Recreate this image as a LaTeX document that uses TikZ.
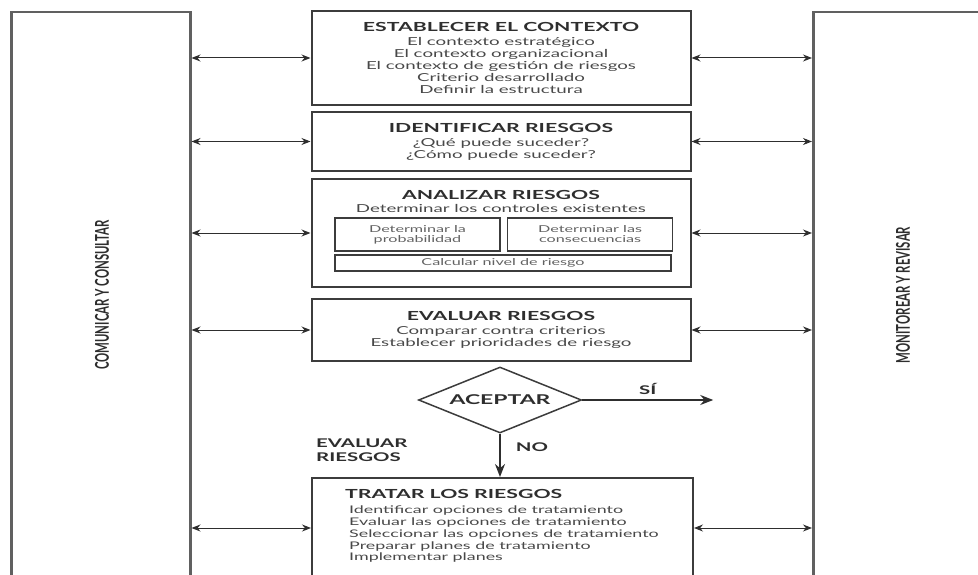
\documentclass[tikz,border=0pt]{standalone}
\usepackage{fontspec}
\setmainfont{Lato}[FakeStretch=1.7]
\newfontfamily\ladofont{Lato}[FakeStretch=0.6]
\usetikzlibrary{positioning,shapes.geometric,arrows.meta}

\definecolor{borde}{HTML}{3C3C3C}
\definecolor{gbarra}{HTML}{606060}
\definecolor{titulo}{HTML}{2E2E2E}
\definecolor{texto}{HTML}{484848}
\definecolor{tenue}{HTML}{626262}

\newcommand{\fuentetitulo}{\fontsize{12.5}{15}\selectfont\bfseries}
\newcommand{\fuentetexto}{\fontsize{11}{12}\selectfont}

\tikzset{
    etapa/.style={draw=borde, line width=2pt, minimum width=379pt,
        align=center, inner sep=0pt, text=texto, font=\fuentetexto},
    interior/.style={draw=borde, line width=1.6pt, align=center,
        inner sep=0pt, text=tenue, font=\fontsize{9.5}{10}\selectfont},
    barra/.style={draw=gbarra, line width=2.5pt, anchor=north west,
        minimum height=640pt},
    lado/.style={rotate=90, text=titulo,
        font=\ladofont\fontsize{19}{20}\selectfont\bfseries},
    doble/.style={{Stealth[length=9pt,width=7pt]}-{Stealth[length=9pt,width=7pt]},
        line width=1pt, draw=titulo},
    salida/.style={-{Stealth[length=13pt,width=10pt]}, line width=1.6pt,
        draw=titulo},
    marca/.style={font=\fontsize{12}{14}\selectfont\bfseries, text=titulo,
        inner sep=0pt}
}

\begin{document}
\begin{tikzpicture}[x=1pt, y=-1pt]

    \useasboundingbox (0,0) rectangle (978,575);
    \clip (0,0) rectangle (978,575);

    % barras laterales
    \node[barra, minimum width=179pt] (comunicar) at (10,11) {};
    \node[barra, minimum width=200pt] (monitorear) at (812,11) {};

    \node[lado] (comunicarlbl) at (102,295) {COMUNICAR Y CONSULTAR};
    \node[lado] (monitorearlbl) at (903,295) {MONITOREAR Y REVISAR};

    % contexto
    \node[etapa,
        minimum height=94pt
    ] (contexto) at (501,58) {{\fuentetitulo\color{titulo}ESTABLECER EL CONTEXTO}\\[2pt]
        El contexto estratégico\\
        El contexto organizacional\\
        El contexto de gestión de riesgos\\
        Criterio desarrollado\\
        Definir la estructura};

    % identificar
    \node[etapa,
        minimum height=59pt,
        below=5pt of contexto
    ] (identificar) {{\fuentetitulo\color{titulo}IDENTIFICAR RIESGOS}\\[2pt]
        ¿Qué puede suceder?\\
        ¿Cómo puede suceder?};

    % analizar
    \node[etapa,
        minimum height=108pt,
        below=6pt of identificar
    ] (analizar) {};

    \node[align=center, inner sep=0pt, text=texto, font=\fuentetexto,
        below=12pt of analizar.north
    ] (analizartit) {{\fuentetitulo\color{titulo}ANALIZAR RIESGOS}\\[1pt]
        Determinar los controles existentes};

    \node[interior,
        minimum width=165pt,
        minimum height=33pt
    ] (probabilidad) at (417.5,234.5) {Determinar la\\probabilidad};

    \node[interior,
        minimum width=165pt,
        minimum height=33pt,
        right=6pt of probabilidad
    ] (consecuencias) {Determinar las\\consecuencias};

    \node[interior,
        minimum width=336pt,
        minimum height=16pt
    ] (nivel) at (503,263) {Calcular nivel de riesgo};

    % evaluar
    \node[etapa,
        minimum height=62pt,
        below=10pt of analizar
    ] (evaluar) {{\fuentetitulo\color{titulo}EVALUAR RIESGOS}\\[2pt]
        Comparar contra criterios\\
        Establecer prioridades de riesgo};

    % decision
    \node[diamond,
        draw=borde,
        line width=1.5pt,
        minimum width=163pt,
        minimum height=66pt,
        aspect=2.47,
        inner sep=0pt,
        text=titulo,
        font=\fontsize{13.5}{15}\selectfont\bfseries
    ] (aceptar) at (500,400) {ACEPTAR};

    % tratar
    \node[etapa,
        minimum width=381pt,
        minimum height=160pt,
        anchor=north
    ] (tratar) at (502.5,477) {};

    \node[anchor=north west, inner sep=0pt, text=titulo,
        font=\fuentetitulo] (tratartit) at (345,489) {TRATAR LOS RIESGOS};

    \node[anchor=north west, align=left, inner sep=0pt, text=texto,
        font=\fontsize{10.5}{11.7}\selectfont
    ] (tratarlst) at (349,506) {Identificar opciones de tratamiento\\
        Evaluar las opciones de tratamiento\\
        Seleccionar las opciones de tratamiento\\
        Preparar planes de tratamiento\\
        Implementar planes};

    \coordinate (tratarizq) at ([yshift=-51pt]tratar.north west);
    \coordinate (tratarder) at ([yshift=-51pt]tratar.north east);

    % flechas a las barras
    \foreach \w/\e in {contexto.west/contexto.east,
        identificar.west/identificar.east,
        analizar.west/analizar.east,
        evaluar.west/evaluar.east,
        tratarizq/tratarder}{
        \draw[doble] (\w -| comunicar.east) -- (\w);
        \draw[doble] (\e) -- (\e -| monitorear.west);
    }

    % si / no
    \draw[salida] (aceptar.east) -- ++(131,0)
        node[midway, above=5pt, marca]{SÍ};

    \draw[salida] (aceptar.south) -- (aceptar.south |- tratar.north)
        node[pos=0.3, right=15pt, marca]{NO};

    \node[marca, anchor=north west, align=left] (evalnota) at (316,439) {EVALUAR\\RIESGOS};

\end{tikzpicture}
\end{document}
